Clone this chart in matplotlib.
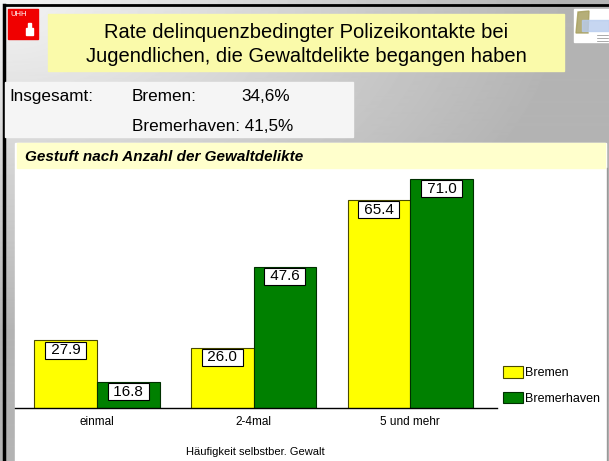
import numpy as np
import matplotlib
matplotlib.use('Agg')
import matplotlib.pyplot as plt
from matplotlib.patches import Rectangle, Polygon

plt.rcParams['font.family'] = ['Liberation Sans', 'DejaVu Sans']

# chart data
categories = ['einmal', '2-4mal', '5 und mehr']
bremen = [27.9, 26.0, 65.4]
bremerhaven = [16.8, 47.6, 71.0]
series_names = ['Bremen', 'Bremerhaven']

title_lines = ['Rate delinquenzbedingter Polizeikontakte bei',
               'Jugendlichen, die Gewaltdelikte begangen haben']
subtitle = 'Gestuft nach Anzahl der Gewaltdelikte'
xlabel = 'Häufigkeit selbstber. Gewalt'
total_labels = ['Bremen:', 'Bremerhaven:']
total_values = ['34,6%', '41,5%']

W, H = 609, 461
fig = plt.figure(figsize=(W / 100, H / 100), dpi=100)

# background layer in pixel coordinates
bg = fig.add_axes([0, 0, 1, 1])
bg.set_xlim(0, W)
bg.set_ylim(H, 0)
bg.axis('off')

yy, xx = np.mgrid[0:H, 0:W]
t = np.clip(np.sqrt((xx / 560.0) ** 2 + (yy / 330.0) ** 2), 0, 1)
grey = 244 - t * 64
bg.imshow(grey, cmap='gray', vmin=0, vmax=255, extent=(0, W, H, 0),
          aspect='auto', interpolation='bilinear', zorder=0)

# frame lines
bg.plot([4, W], [5, 5], color='black', lw=2, zorder=1)
bg.plot([4, 4], [5, H], color='black', lw=2.5, zorder=1)

# UHH logo
bg.add_patch(Rectangle((8, 9), 30, 30, color='#F00000', zorder=2))
bg.text(10, 11, 'UHH', color='white', fontsize=5.5, va='top', ha='left', zorder=3)
bg.add_patch(Rectangle((26, 28), 7, 7, color='white', zorder=3))
bg.add_patch(Rectangle((28, 23), 3, 5, color='white', zorder=3))

# right logo
bg.add_patch(Rectangle((574, 9), 35, 33, color='white', zorder=2))
bg.add_patch(Polygon([[578, 12], [589, 11], [588, 33], [576, 33]],
                     color='#A8A060', alpha=0.85, zorder=3))
bg.add_patch(Rectangle((582, 20), 27, 11, color='#B8CCEE', alpha=0.8, zorder=3))
for ly in (35, 38, 41):
    bg.plot([597, 608], [ly, ly], color='#888888', lw=0.5, zorder=3)

# title box
bg.add_patch(Rectangle((48, 14), 516, 57, color='#FAFAAA', zorder=2))
bg.text(306, 37.5, title_lines[0], ha='center', va='baseline', fontsize=14.5, zorder=3)
bg.text(306, 62.5, title_lines[1], ha='center', va='baseline', fontsize=14.5, zorder=3)

# totals panel
bg.add_patch(Rectangle((5, 82), 348, 55, color='#F5F5F5', zorder=2))
bg.text(9, 101, 'Insgesamt:', ha='left', va='baseline', fontsize=12.3, zorder=3)
bg.text(132, 101, total_labels[0], ha='left', va='baseline', fontsize=12.3, zorder=3)
bg.text(241, 101, total_values[0], ha='left', va='baseline', fontsize=12.3, zorder=3)
bg.text(132, 131, total_labels[1] + ' ' + total_values[1], ha='left', va='baseline',
        fontsize=12.3, zorder=3)

# chart panel
bg.add_patch(Rectangle((15, 143), 591, H - 143, color='white', zorder=2))
bg.add_patch(Rectangle((17, 143), 588, 25, color='#FFFFCC', zorder=3))
bg.plot([607, 607], [168, H], color='#999999', lw=1, zorder=3)
bg.text(25, 160.5, subtitle, ha='left', va='baseline', fontsize=11,
        fontweight='bold', fontstyle='italic', zorder=4)

# bar chart axes
x0, x1, y0, y1 = 15, 496.5, 164, 407.5
ax = fig.add_axes([x0 / W, 1 - y1 / H, (x1 - x0) / W, (y1 - y0) / H])
ax.patch.set_alpha(0)
x = np.arange(len(categories))
w = 0.4
b1 = ax.bar(x - w / 2, bremen, w, color='#FFFF00', edgecolor='#4A4A00', lw=0.8,
            label=series_names[0])
b2 = ax.bar(x + w / 2, bremerhaven, w, color='#008000', edgecolor='#003000', lw=0.8,
            label=series_names[1])
ax.set_ylim(10, 75)
ax.set_xlim(-0.524, 2.551)

for bars, vals in ((b1, bremen), (b2, bremerhaven)):
    for rect, v in zip(bars, vals):
        ax.annotate(f' {v:.1f} ', (rect.get_x() + rect.get_width() / 2, v),
                    xytext=(0, -2), textcoords='offset points', ha='center', va='top',
                    fontsize=11,
                    bbox=dict(boxstyle='square,pad=0.1', fc='white', ec='black', lw=0.8))

for s in ('top', 'right', 'left'):
    ax.spines[s].set_visible(False)
ax.spines['bottom'].set_linewidth(1)
ax.set_yticks([])
ax.set_xticks(x)
ax.set_xticklabels(categories, fontsize=8.5)
ax.tick_params(axis='x', length=0, pad=6)
ax.set_xlabel(xlabel, fontsize=8, labelpad=14)

ax.legend(loc='upper left', bbox_to_anchor=(503 / W, 1 - 366 / H),
          bbox_transform=fig.transFigure, frameon=False, fontsize=9,
          handlelength=1.6, handleheight=1.04, handletextpad=0.2,
          labelspacing=1.0, borderpad=0, borderaxespad=0)

fig.savefig('out.png', dpi=100)
